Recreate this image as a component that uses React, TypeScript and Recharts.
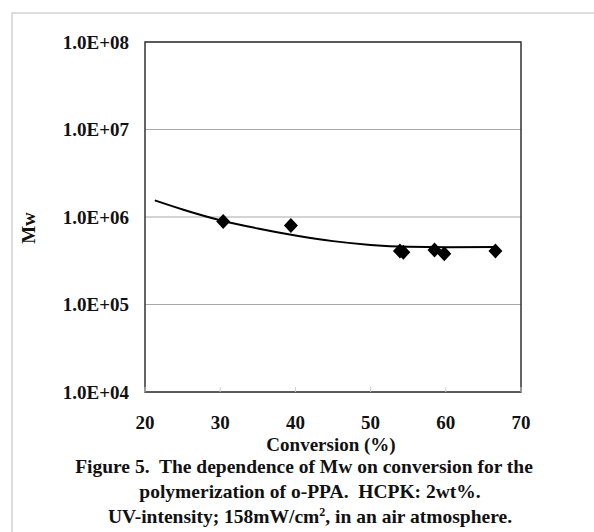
import React from 'react';
import { ComposedChart, Line, Scatter, XAxis, YAxis, CartesianGrid, ReferenceArea } from 'recharts';

const conversion = [30.4, 39.4, 53.9, 54.35, 58.5, 59.8, 66.6];
const mwValues = [8.9e5, 8.0e5, 4.1e5, 3.96e5, 4.2e5, 3.8e5, 4.1e5];
const fitConversion = [21.3, 25, 30, 35, 40, 45, 50, 55, 60, 66.6];
const fitMw = [1.55e6, 1.22e6, 9.2e5, 7.4e5, 6.15e5, 5.3e5, 4.8e5, 4.57e5, 4.52e5, 4.55e5];
const xTicks = [20, 30, 40, 50, 60, 70];
const yTicks = [1e4, 1e5, 1e6, 1e7, 1e8];

const points = conversion.map((x, i) => ({ x, y: mwValues[i] }));
const fit = fitConversion.map((x, i) => ({ x, y: fitMw[i] }));

const FONT = '"Liberation Serif", "Times New Roman", serif';
const tickStyle = { fontFamily: FONT, fontWeight: 700, fontSize: 19, fill: '#111' };

const fmt = (v: number) => {
  const e = Math.round(Math.log10(v));
  return `1.0E+${e < 10 ? '0' + e : e}`;
};

const Diamond = (props: any) => {
  const { cx, cy } = props;
  if (cx == null || cy == null) return null;
  const w = 7, h = 7.5;
  return (
    <polygon
      points={`${cx},${cy - h} ${cx + w},${cy} ${cx},${cy + h} ${cx - w},${cy}`}
      fill="#000"
    />
  );
};

const textBase: React.CSSProperties = {
  position: 'absolute',
  fontFamily: FONT,
  fontWeight: 700,
  fontSize: 19.5,
  color: '#111',
  whiteSpace: 'nowrap',
  lineHeight: '20px',
};

export default function App() {
  return (
    <div style={{ position: 'absolute', left: 0, top: 0, width: 594, height: 532, background: '#fff', overflow: 'hidden' }}>
      <div style={{ position: 'absolute', left: 11, top: 12, width: 620, height: 560, borderTop: '2px solid #ddd', borderLeft: '2px solid #ddd' }} />
      <div style={{ position: 'absolute', left: 0, top: 0 }}>
        <ComposedChart width={594} height={532} margin={{ top: 42, right: 73, bottom: 100, left: 0 }}>
          <CartesianGrid horizontal vertical={false} stroke="#a8a8a8" strokeWidth={1} />
          <XAxis
            type="number"
            dataKey="x"
            domain={[20, 70]}
            ticks={xTicks}
            allowDataOverflow
            axisLine={false}
            tickLine={{ stroke: '#ccc' }}
            tickSize={-5}
            tick={tickStyle}
            tickMargin={29}
            height={40}
          />
          <YAxis
            type="number"
            dataKey="y"
            scale="log"
            domain={[1e4, 1e8]}
            ticks={yTicks}
            allowDataOverflow
            axisLine={false}
            tickLine={false}
            tickSize={0}
            tickMargin={16}
            tick={tickStyle}
            tickFormatter={fmt}
            width={145}
          />
          <ReferenceArea x1={20} x2={70} y1={1e4} y2={1e8} fill="none" stroke="#333" strokeWidth={1.5} fillOpacity={0} ifOverflow="visible" />
          <Line
            data={fit}
            dataKey="y"
            type="monotone"
            stroke="#000"
            strokeWidth={2}
            dot={false}
            activeDot={false}
            isAnimationActive={false}
          />
          <Scatter data={points} dataKey="y" shape={<Diamond />} isAnimationActive={false} />
        </ComposedChart>
      </div>
      <div style={{ ...textBase, fontSize: 19, left: -1, top: 228 - 10, width: 60, height: 20, textAlign: 'center', transform: 'rotate(-90deg)' }}>Mw</div>
      <div style={{ ...textBase, fontSize: 19, lineHeight: '18px', left: 231, width: 200, top: 445 - 9, textAlign: 'center' }}>Conversion (%)</div>
      <div style={{ ...textBase, left: 4, width: 600, top: 467 - 10, textAlign: 'center' }}>
        Figure 5.&nbsp; The dependence of Mw on conversion for the
      </div>
      <div style={{ ...textBase, left: 10, width: 600, top: 492 - 10, textAlign: 'center' }}>
        polymerization of o-PPA.&nbsp; HCPK: 2wt%.
      </div>
      <div style={{ ...textBase, left: 10, width: 600, top: 517 - 10, textAlign: 'center' }}>
        UV-intensity; 158mW/cm<sup style={{ fontSize: 12, lineHeight: 0, verticalAlign: 'super' }}>2</sup>, in an air atmosphere.
      </div>
    </div>
  );
}
